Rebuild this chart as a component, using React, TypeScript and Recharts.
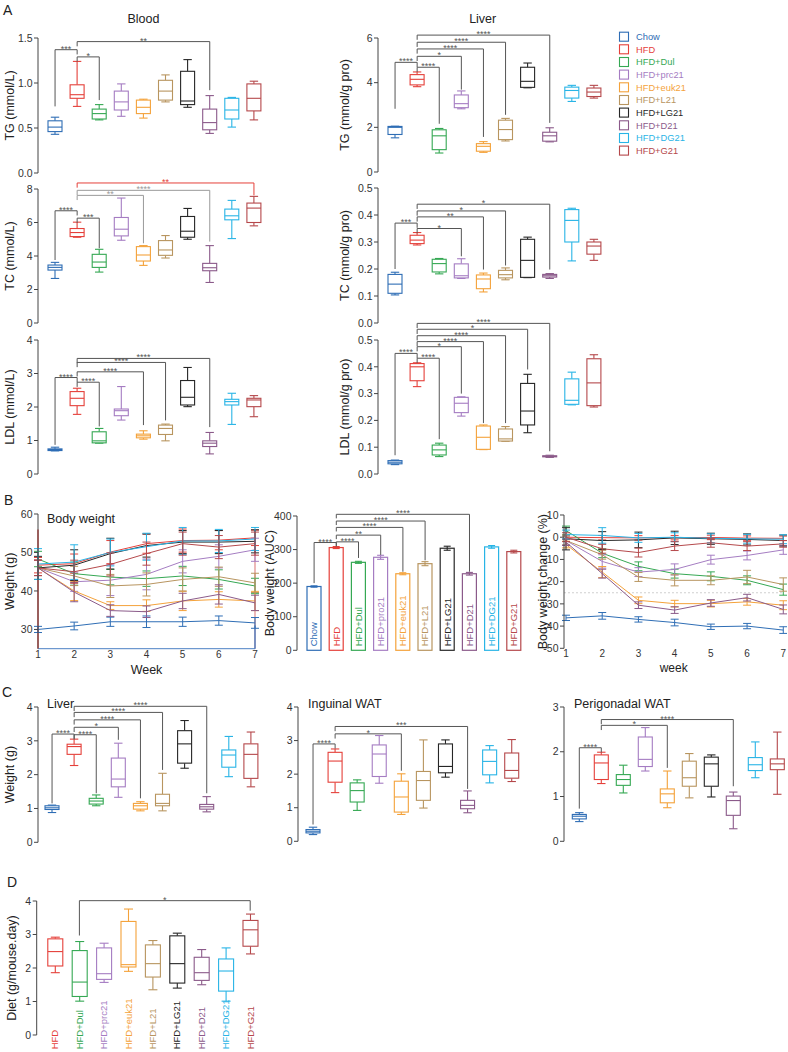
import React from 'react';
import {
  ComposedChart,
  BarChart,
  LineChart,
  Bar,
  Line,
  XAxis,
  YAxis,
  ReferenceLine,
  ErrorBar,
  Label,
} from 'recharts';

const FONT = '"Liberation Sans", Arial, Helvetica, sans-serif';
const AXIS = '#444';
const TEXT = '#222';

// ---------- groups ----------
const GROUPS = ['Chow', 'HFD', 'HFD+Dul', 'HFD+prc21', 'HFD+euk21', 'HFD+L21', 'HFD+LG21', 'HFD+D21', 'HFD+DG21', 'HFD+G21'];
const COLORS = ['#2e6db5', '#e5403a', '#35a853', '#a57cc2', '#f4a23a', '#b8955f', '#262626', '#8b5a8a', '#28b4e6', '#b5484b'];
const AUC_LABELS = ['Chow', 'HFD', 'HFD+Dul', 'HFD+pro21', 'HFD+euk21', 'HFD+L21', 'HFD+LG21', 'HFD+D21', 'HFD+DG21', 'HFD+G21'];
const WEEKS = [1, 2, 3, 4, 5, 6, 7];

type Stat = [number, number, number, number, number]; // min, q1, median, q3, max
interface Bracket { from: string; to: string; y: number; leg: number; label: string; color?: string; fromLeg?: number }

// ---------- A: serum lipids ----------
const BLOOD_TG: Stat[] = [
  [0.43, 0.46, 0.51, 0.58, 0.62], [0.74, 0.83, 0.87, 0.98, 1.24], [0.59, 0.6, 0.66, 0.71, 0.76],
  [0.63, 0.7, 0.79, 0.91, 0.99], [0.61, 0.66, 0.73, 0.81, 0.82], [0.79, 0.81, 0.91, 1.03, 1.09],
  [0.73, 0.76, 0.8, 1.13, 1.26], [0.44, 0.48, 0.56, 0.71, 0.86], [0.51, 0.6, 0.7, 0.83, 0.84],
  [0.59, 0.69, 0.83, 0.99, 1.02],
];
const BLOOD_TC: Stat[] = [
  [2.66, 3.16, 3.32, 3.46, 3.62], [5.12, 5.16, 5.4, 5.64, 6.02], [3.04, 3.32, 3.64, 4.1, 4.4],
  [4.94, 5.2, 5.6, 6.3, 7.46], [3.44, 3.7, 4.06, 4.56, 4.62], [3.88, 4.04, 4.36, 4.92, 5.22],
  [5.0, 5.12, 5.48, 6.36, 6.84], [2.42, 3.12, 3.3, 3.56, 4.62], [5.04, 6.16, 6.4, 6.8, 7.32],
  [5.8, 6.0, 6.86, 7.16, 7.56],
];
const BLOOD_LDL: Stat[] = [
  [0.69, 0.7, 0.73, 0.75, 0.8], [1.78, 2.04, 2.26, 2.46, 2.56], [0.92, 0.93, 0.99, 1.26, 1.36],
  [1.61, 1.74, 1.89, 1.94, 2.61], [1.04, 1.08, 1.14, 1.19, 1.29], [0.99, 1.18, 1.36, 1.46, 1.49],
  [2.01, 2.06, 2.29, 2.79, 3.18], [0.6, 0.82, 0.92, 0.99, 1.24], [1.48, 2.06, 2.16, 2.23, 2.41],
  [1.71, 2.01, 2.21, 2.26, 2.34],
];
const LIVER_TG: Stat[] = [
  [1.53, 1.68, 2.0, 2.04, 2.05], [3.82, 3.9, 4.15, 4.36, 4.48], [0.85, 1.0, 1.62, 1.89, 1.95],
  [2.83, 2.88, 3.06, 3.45, 3.63], [0.88, 0.93, 1.15, 1.27, 1.36], [1.39, 1.45, 1.9, 2.32, 2.4],
  [3.77, 3.79, 4.06, 4.69, 4.88], [1.35, 1.38, 1.62, 1.78, 1.98], [3.16, 3.31, 3.65, 3.8, 3.88],
  [3.31, 3.38, 3.58, 3.76, 3.88],
];
const LIVER_TC: Stat[] = [
  [0.104, 0.11, 0.144, 0.18, 0.188], [0.289, 0.294, 0.307, 0.325, 0.335], [0.182, 0.189, 0.22, 0.236, 0.239],
  [0.165, 0.167, 0.175, 0.219, 0.238], [0.115, 0.127, 0.163, 0.178, 0.185], [0.16, 0.167, 0.179, 0.195, 0.204],
  [0.168, 0.169, 0.232, 0.31, 0.318], [0.165, 0.17, 0.175, 0.18, 0.183], [0.23, 0.3, 0.38, 0.42, 0.425],
  [0.232, 0.255, 0.285, 0.3, 0.31],
];
const LIVER_LDL: Stat[] = [
  [0.035, 0.038, 0.044, 0.05, 0.052], [0.326, 0.348, 0.4, 0.412, 0.415], [0.065, 0.071, 0.09, 0.108, 0.115],
  [0.216, 0.229, 0.264, 0.286, 0.288], [0.091, 0.092, 0.137, 0.179, 0.183], [0.122, 0.123, 0.131, 0.168, 0.177],
  [0.154, 0.183, 0.235, 0.338, 0.372], [0.062, 0.064, 0.066, 0.068, 0.07], [0.258, 0.26, 0.275, 0.355, 0.38],
  [0.25, 0.255, 0.34, 0.43, 0.445],
];

const BLOOD_TG_SIG: Bracket[] = [
  { from: 'HFD', to: 'Chow', y: 1.37, leg: 0.74, label: '***' },
  { from: 'HFD', to: 'HFD+Dul', y: 1.29, leg: 0.81, label: '*' },
  { from: 'HFD', to: 'HFD+D21', y: 1.46, leg: 0.92, label: '**' },
];
const BLOOD_TC_SIG: Bracket[] = [
  { from: 'HFD', to: 'Chow', y: 6.7, leg: 3.76, label: '****' },
  { from: 'HFD', to: 'HFD+Dul', y: 6.26, leg: 4.46, label: '***' },
  { from: 'HFD', to: 'HFD+euk21', y: 7.62, leg: 4.76, label: '**', color: '#9a9a9a' },
  { from: 'HFD', to: 'HFD+D21', y: 7.92, leg: 4.86, label: '****', color: '#9a9a9a' },
  { from: 'HFD', to: 'HFD+G21', y: 8.36, leg: 7.62, label: '**', color: '#e5403a' },
];
const BLOOD_LDL_SIG: Bracket[] = [
  { from: 'HFD', to: 'Chow', y: 2.88, leg: 0.87, label: '****' },
  { from: 'HFD', to: 'HFD+Dul', y: 2.74, leg: 1.42, label: '****' },
  { from: 'HFD', to: 'HFD+euk21', y: 3.05, leg: 1.46, label: '****' },
  { from: 'HFD', to: 'HFD+L21', y: 3.33, leg: 1.6, label: '****' },
  { from: 'HFD', to: 'HFD+D21', y: 3.45, leg: 1.4, label: '****' },
];
const LIVER_TG_SIG: Bracket[] = [
  { from: 'HFD', to: 'Chow', y: 4.91, leg: 2.83, label: '****' },
  { from: 'HFD', to: 'HFD+Dul', y: 4.69, leg: 2.16, label: '****' },
  { from: 'HFD', to: 'HFD+prc21', y: 5.18, leg: 3.69, label: '*' },
  { from: 'HFD', to: 'HFD+euk21', y: 5.51, leg: 1.57, label: '****' },
  { from: 'HFD', to: 'HFD+L21', y: 5.81, leg: 2.56, label: '****' },
  { from: 'HFD', to: 'HFD+D21', y: 6.13, leg: 2.2, label: '****' },
];
const LIVER_TC_SIG: Bracket[] = [
  { from: 'HFD', to: 'Chow', y: 0.37, leg: 0.2, label: '***' },
  { from: 'HFD', to: 'HFD+prc21', y: 0.35, leg: 0.247, label: '*' },
  { from: 'HFD', to: 'HFD+euk21', y: 0.393, leg: 0.198, label: '**' },
  { from: 'HFD', to: 'HFD+L21', y: 0.415, leg: 0.213, label: '*' },
  { from: 'HFD', to: 'HFD+D21', y: 0.44, leg: 0.198, label: '*' },
];
const LIVER_LDL_SIG: Bracket[] = [
  { from: 'HFD', to: 'Chow', y: 0.45, leg: 0.07, label: '****' },
  { from: 'HFD', to: 'HFD+Dul', y: 0.432, leg: 0.13, label: '****' },
  { from: 'HFD', to: 'HFD+prc21', y: 0.475, leg: 0.3, label: '*' },
  { from: 'HFD', to: 'HFD+euk21', y: 0.494, leg: 0.19, label: '****' },
  { from: 'HFD', to: 'HFD+L21', y: 0.516, leg: 0.19, label: '****' },
  { from: 'HFD', to: 'HFD+LG21', y: 0.54, leg: 0.39, label: '*' },
  { from: 'HFD', to: 'HFD+D21', y: 0.562, leg: 0.085, label: '****' },
];

// ---------- B: body weight ----------
const WEIGHT: number[][] = [
  [30.0, 30.9, 32.0, 32.0, 32.0, 32.3, 31.7],
  [46.7, 47.1, 50.1, 52.3, 53.1, 53.2, 53.8],
  [48.3, 44.5, 43.6, 43.2, 43.9, 43.0, 41.3],
  [46.0, 42.4, 42.8, 44.3, 47.7, 49.0, 50.7],
  [46.0, 40.0, 36.2, 36.2, 37.4, 37.8, 37.4],
  [46.0, 43.9, 41.3, 41.7, 43.0, 43.7, 42.1],
  [46.0, 46.7, 49.7, 51.8, 52.7, 52.7, 52.9],
  [46.0, 39.7, 34.9, 34.6, 37.4, 39.1, 36.9],
  [47.0, 47.5, 50.0, 51.5, 53.0, 53.0, 53.5],
  [46.0, 45.0, 46.9, 49.7, 52.3, 51.4, 52.3],
];
const WEIGHT_ERR: number[][] = [
  [0.8, 1.0, 1.2, 1.5, 1.2, 1.2, 1.4],
  [2.0, 2.5, 3.0, 2.5, 3.0, 2.5, 2.0],
  [2.0, 3.0, 2.0, 2.0, 2.5, 2.5, 2.0],
  [2.0, 2.5, 4.0, 4.0, 3.0, 3.0, 3.0],
  [2.0, 2.5, 1.0, 1.5, 2.5, 2.0, 2.5],
  [2.0, 2.5, 3.0, 3.0, 3.0, 2.5, 2.5],
  [3.0, 4.0, 4.0, 3.0, 3.0, 3.0, 3.0],
  [2.0, 2.5, 1.5, 1.5, 2.0, 2.5, 2.0],
  [4.0, 4.5, 3.5, 3.5, 3.5, 3.0, 3.0],
  [2.0, 3.0, 3.0, 3.0, 3.0, 3.0, 3.0],
];
// coloured frame edges of the overlaid weight plots (week, from, to)
const WEIGHT_EDGES: { week: number; from: number; to: number; color: string }[] = [
  { week: 1, from: 25, to: 56, color: '#e5403a' },
  { week: 7, from: 25, to: 56, color: '#e59a9a' },
  { week: 7, from: 25, to: 31, color: '#4a7fc4' },
];
const AUC = [190, 306, 262, 277, 228, 258, 304, 228, 308, 294];
const AUC_ERR = [2, 3, 3, 6, 3, 6, 6, 4, 4, 4];
const AUC_SIG: Bracket[] = [
  { from: 'HFD', to: 'Chow', y: 321, leg: 200, label: '****' },
  { from: 'HFD', to: 'HFD+Dul', y: 323, leg: 275, label: '****' },
  { from: 'HFD', to: 'HFD+prc21', y: 343, leg: 284, label: '**' },
  { from: 'HFD', to: 'HFD+euk21', y: 366, leg: 234, label: '****' },
  { from: 'HFD', to: 'HFD+L21', y: 385, leg: 268, label: '****' },
  { from: 'HFD', to: 'HFD+D21', y: 405, leg: 234, label: '****' },
];
const CHANGE: number[][] = [
  [-36.3, -35.4, -37.0, -38.4, -40.3, -40.0, -41.8],
  [0.0, -0.2, -0.3, -0.2, -0.1, -0.4, -0.5],
  [3.0, -7.2, -13.1, -16.4, -17.6, -19.4, -23.6],
  [-1.5, -10.9, -15.7, -14.5, -10.1, -8.2, -5.7],
  [-3.3, -15.7, -28.4, -29.9, -29.9, -29.1, -30.6],
  [-1.5, -7.9, -17.9, -19.4, -19.4, -17.9, -21.3],
  [-0.7, -1.5, -1.2, -0.3, -0.7, -1.0, -1.5],
  [-2.2, -16.4, -30.6, -32.8, -29.6, -27.2, -32.5],
  [1.2, 0.8, -0.3, 0.0, -0.5, -0.7, -0.9],
  [0.0, -5.2, -6.9, -4.0, -2.5, -4.0, -3.0],
];
const CHANGE_ERR: number[][] = [
  [1.2, 1.5, 1.2, 1.5, 1.2, 1.2, 1.5],
  [1.0, 1.0, 1.0, 1.0, 1.0, 1.0, 1.0],
  [2.0, 2.0, 2.0, 2.0, 2.0, 2.0, 2.5],
  [2.0, 3.0, 2.0, 2.5, 2.0, 2.0, 2.0],
  [1.5, 2.5, 1.5, 1.5, 1.5, 1.5, 2.0],
  [2.0, 2.0, 2.0, 2.5, 2.0, 3.0, 3.0],
  [5.0, 4.0, 3.5, 3.0, 2.5, 2.5, 2.5],
  [1.5, 2.0, 1.5, 1.5, 1.5, 1.5, 2.0],
  [2.0, 3.5, 2.0, 2.0, 2.0, 2.0, 2.0],
  [2.0, 2.0, 2.0, 2.0, 2.0, 2.0, 1.5],
];

// ---------- C: tissue weights ----------
const LIVER_W: Stat[] = [
  [0.88, 0.97, 1.02, 1.08, 1.1], [2.27, 2.6, 2.83, 2.9, 3.05], [1.08, 1.13, 1.22, 1.3, 1.4],
  [1.33, 1.64, 1.87, 2.49, 2.93], [0.93, 0.98, 1.08, 1.15, 1.2], [0.93, 1.08, 1.15, 1.42, 2.04],
  [2.19, 2.34, 2.91, 3.3, 3.6], [0.9, 0.98, 1.05, 1.12, 1.35], [1.94, 2.22, 2.58, 2.73, 3.13],
  [1.64, 1.89, 2.6, 2.91, 3.26],
];
const INGUINAL_W: Stat[] = [
  [0.2, 0.25, 0.3, 0.35, 0.42], [1.45, 1.76, 2.39, 2.65, 2.75], [0.92, 1.17, 1.51, 1.74, 1.83],
  [1.73, 1.93, 2.6, 2.87, 3.15], [0.8, 0.87, 1.32, 1.79, 2.01], [0.99, 1.22, 1.81, 2.08, 3.02],
  [1.91, 2.04, 2.23, 2.9, 3.02], [0.85, 0.97, 1.07, 1.22, 1.5], [1.74, 1.98, 2.38, 2.72, 2.85],
  [1.78, 1.88, 2.11, 2.63, 3.03],
];
const PERIGONADAL_W: Stat[] = [
  [0.44, 0.5, 0.56, 0.6, 0.64], [1.29, 1.38, 1.75, 1.93, 1.99], [1.08, 1.25, 1.38, 1.49, 1.7],
  [1.57, 1.67, 1.83, 2.33, 2.54], [0.75, 0.86, 1.06, 1.17, 1.57], [0.97, 1.23, 1.42, 1.79, 1.96],
  [0.99, 1.23, 1.73, 1.88, 1.93], [0.28, 0.58, 0.91, 1.01, 1.1], [1.42, 1.58, 1.71, 1.87, 2.22],
  [1.05, 1.6, 1.73, 1.84, 2.44],
];
const LIVER_W_SIG: Bracket[] = [
  { from: 'HFD', to: 'Chow', y: 3.2, leg: 1.15, label: '****' },
  { from: 'HFD', to: 'HFD+Dul', y: 3.18, leg: 1.45, label: '****' },
  { from: 'HFD', to: 'HFD+prc21', y: 3.4, leg: 3.03, label: '*' },
  { from: 'HFD', to: 'HFD+euk21', y: 3.62, leg: 1.3, label: '****' },
  { from: 'HFD', to: 'HFD+L21', y: 3.84, leg: 2.14, label: '****' },
  { from: 'HFD', to: 'HFD+D21', y: 4.02, leg: 1.45, label: '****' },
];
const INGUINAL_SIG: Bracket[] = [
  { from: 'HFD', to: 'Chow', y: 2.9, leg: 0.5, label: '****' },
  { from: 'HFD', to: 'HFD+euk21', y: 3.2, leg: 2.1, label: '*' },
  { from: 'HFD', to: 'HFD+D21', y: 3.42, leg: 1.56, label: '***' },
];
const PERIGONADAL_SIG: Bracket[] = [
  { from: 'HFD', to: 'Chow', y: 2.09, leg: 0.73, label: '****' },
  { from: 'HFD', to: 'HFD+euk21', y: 2.59, leg: 1.64, label: '*' },
  { from: 'HFD', to: 'HFD+D21', y: 2.72, leg: 1.23, label: '****' },
];

// ---------- D: food intake ----------
const DIET: Stat[] = [
  [1.86, 2.06, 2.49, 2.87, 2.92], [1.01, 1.15, 1.58, 2.52, 2.79], [1.57, 1.66, 1.83, 2.6, 2.74],
  [1.9, 2.03, 2.1, 3.39, 3.76], [1.35, 1.73, 2.13, 2.69, 2.82], [1.4, 1.55, 2.13, 2.96, 3.04],
  [1.5, 1.63, 1.86, 2.32, 2.55], [1.01, 1.31, 1.91, 2.27, 2.6], [2.42, 2.65, 3.14, 3.42, 3.61],
];
const DIET_SIG: Bracket[] = [
  { from: 'HFD+Dul', to: 'HFD+G21', y: 4.01, leg: 3.71, fromLeg: 2.97, label: '*' },
];

// ---------- shapes ----------
const BoxShape = (props: any) => {
  const { x, y, width, height } = props;
  const p = props.payload ?? props;
  if (!p || !p.range) return null;
  const [lo, hi] = p.range;
  const top = Math.min(y, y + height);
  const h = Math.abs(height);
  const k = h / (hi - lo);
  const py = (v: number) => top + (hi - v) * k;
  const cx = x + width / 2;
  const cap = width * 0.3;
  return (
    <g stroke={p.color} strokeWidth={1.1} fill="none">
      <line x1={cx} x2={cx} y1={py(hi)} y2={py(p.q3)} />
      <line x1={cx} x2={cx} y1={py(p.q1)} y2={py(lo)} />
      <line x1={cx - cap} x2={cx + cap} y1={py(hi)} y2={py(hi)} />
      <line x1={cx - cap} x2={cx + cap} y1={py(lo)} y2={py(lo)} />
      <rect x={x} y={py(p.q3)} width={width} height={Math.max(py(p.q1) - py(p.q3), 0.6)} fill="#fff" />
      <line x1={x} x2={x + width} y1={py(p.med)} y2={py(p.med)} />
    </g>
  );
};

const AucShape = (props: any) => {
  const { x, y, width, height } = props;
  const p = props.payload ?? props;
  const top = Math.min(y, y + height);
  const h = Math.abs(height);
  const k = h / p.value;
  const cx = x + width / 2;
  const e = p.err * k;
  return (
    <g>
      <rect x={x} y={top} width={width} height={h} fill="#fff" stroke={p.color} strokeWidth={1.2} />
      <g stroke={p.color} strokeWidth={1.1}>
        <line x1={cx} x2={cx} y1={top - e} y2={top + e} />
        <line x1={cx - 3.5} x2={cx + 3.5} y1={top - e} y2={top - e} />
        <line x1={cx - 3.5} x2={cx + 3.5} y1={top + e} y2={top + e} />
      </g>
      <text transform={`translate(${cx + 3.4},${top + h - 4}) rotate(-90)`} fontSize={9.5} fill={p.color}>
        {p.label}
      </text>
    </g>
  );
};

function bracketLines(list: Bracket[], tick: number) {
  const out: any[] = [];
  list.forEach((b, i) => {
    const c = b.color || '#555';
    out.push(
      <ReferenceLine
        key={`h${i}`}
        segment={[{ x: b.from, y: b.y }, { x: b.to, y: b.y }]}
        stroke={c}
        strokeWidth={1}
        ifOverflow="visible"
        label={{ value: b.label, position: 'top', offset: -2, fontSize: 9, fill: c }}
      />,
    );
    out.push(
      <ReferenceLine key={`v${i}`} segment={[{ x: b.to, y: b.y }, { x: b.to, y: b.leg }]} stroke={c} strokeWidth={1} ifOverflow="visible" />,
    );
    out.push(
      <ReferenceLine
        key={`t${i}`}
        segment={[{ x: b.from, y: b.y }, { x: b.from, y: b.fromLeg ?? b.y - tick }]}
        stroke={c}
        strokeWidth={1}
        ifOverflow="visible"
      />,
    );
  });
  return out;
}

const yTick = { fontSize: 10.5, fill: '#333' };

interface BoxPanelProps {
  axisX: number;
  topY: number;
  zeroY: number;
  bandStart: number;
  band: number;
  yw: number;
  groups: string[];
  colors: string[];
  stats: Stat[];
  ticks: number[];
  decimals?: number;
  yLabel?: string;
  labelX?: number;
  brackets: Bracket[];
  barSize: number;
  xLabelBase?: number;
}

function BoxPanel(props: BoxPanelProps) {
  const { axisX, topY, zeroY, bandStart, band, yw, groups, colors, stats, ticks, decimals = 0, yLabel, labelX = 0, brackets, barSize, xLabelBase } = props;
  const T = 30;
  const B = xLabelBase ? 1052 - zeroY : 8;
  const left = axisX - yw;
  const pl = bandStart - axisX;
  const plotW = pl + band * groups.length;
  const W = yw + plotW + 4;
  const H = T + (zeroY - topY) + B;
  const top = topY - T;
  const yMax = ticks[ticks.length - 1];
  const data = groups.map((g, i) => ({
    name: g,
    color: colors[i],
    range: [stats[i][0], stats[i][4]],
    q1: stats[i][1],
    med: stats[i][2],
    q3: stats[i][3],
  }));
  const tickFn = (tp: any) => {
    const idx = groups.indexOf(tp.payload.value);
    return (
      <text
        transform={`translate(${tp.x + 3.4},${(xLabelBase ?? 0) - top}) rotate(-90)`}
        fontSize={9.5}
        fill={colors[idx]}
      >
        {tp.payload.value}
      </text>
    );
  };
  return (
    <div style={{ position: 'absolute', left, top }}>
      <ComposedChart width={W} height={H} data={data} margin={{ top: T, right: 4, bottom: xLabelBase ? 0 : B, left: 0 }}>
        {xLabelBase ? (
          <XAxis
            dataKey="name"
            type="category"
            padding={{ left: pl, right: 0 }}
            axisLine={false}
            tickLine={false}
            height={B}
            interval={0}
            tick={tickFn}
          />
        ) : (
          <XAxis dataKey="name" type="category" hide padding={{ left: pl, right: 0 }} />
        )}
        <YAxis
          type="number"
          domain={[0, yMax]}
          ticks={ticks}
          interval={0}
          width={yw}
          tick={yTick}
          tickSize={4}
          tickMargin={1.5}
          tickLine={{ stroke: AXIS }}
          axisLine={{ stroke: AXIS }}
          tickFormatter={(v: number) => v.toFixed(decimals)}
        >
          {yLabel ? (
            <Label
              value={yLabel}
              angle={-90}
              position="insideLeft"
              offset={labelX - left}
              fontSize={12.5}
              fill={TEXT}
              style={{ textAnchor: 'middle' }}
            />
          ) : null}
        </YAxis>
        <Bar dataKey="range" barSize={barSize} shape={BoxShape} isAnimationActive={false} />
        {bracketLines(brackets, yMax * 0.035)}
      </ComposedChart>
    </div>
  );
}

function rowsFor(values: number[][], errs: number[][]) {
  return WEEKS.map((w, j) => {
    const r: any = { week: w };
    GROUPS.forEach((_, i) => {
      r[`g${i}`] = values[i][j];
      r[`e${i}`] = errs[i][j];
    });
    return r;
  });
}

function seriesLines() {
  return GROUPS.map((g, i) => (
    <Line key={g} dataKey={`g${i}`} name={g} stroke={COLORS[i]} strokeWidth={1} dot={false} isAnimationActive={false}>
      <ErrorBar dataKey={`e${i}`} width={4} stroke={COLORS[i]} strokeWidth={1} direction="y" />
    </Line>
  ));
}

function WeightPanel() {
  const T = 10;
  const XH = 30;
  const topY = 514.3;
  const zeroY = 649;
  const W = 255 + 8;
  const H = T + (zeroY - topY) + XH;
  return (
    <div style={{ position: 'absolute', left: 0, top: topY - T }}>
      <LineChart width={W} height={H} data={rowsFor(WEIGHT, WEIGHT_ERR)} margin={{ top: T, right: 8, bottom: 0, left: 0 }}>
        <XAxis
          dataKey="week"
          type="number"
          domain={[1, 7]}
          ticks={WEEKS}
          interval={0}
          height={XH}
          tick={{ fontSize: 10, fill: '#333' }}
          tickSize={0}
          tickMargin={2.5}
          axisLine={{ stroke: '#4a7fc4' }}
        >
          <Label value="Week" position="insideBottom" offset={5} fontSize={12.5} fill={TEXT} />
        </XAxis>
        <YAxis
          type="number"
          domain={[25, 60]}
          ticks={[30, 40, 50, 60]}
          interval={0}
          width={38}
          tick={yTick}
          tickSize={4}
          tickMargin={1.5}
          tickLine={{ stroke: AXIS }}
          axisLine={{ stroke: AXIS }}
        >
          <Label value="Weight (g)" angle={-90} position="insideLeft" offset={10} fontSize={12.5} fill={TEXT} style={{ textAnchor: 'middle' }} />
        </YAxis>
        {WEIGHT_EDGES.map((e, i) => (
          <ReferenceLine
            key={`edge${i}`}
            segment={[{ x: e.week, y: e.from }, { x: e.week, y: e.to }]}
            stroke={e.color}
            strokeWidth={1.4}
            ifOverflow="visible"
          />
        ))}
        {seriesLines()}
      </LineChart>
    </div>
  );
}

function AucPanel() {
  const T = 30;
  const axisX = 297;
  const yw = 42;
  const topY = 515.7;
  const zeroY = 650;
  const pl = 303 - axisX;
  const band = 22.2;
  const W = yw + pl + band * 10 + 4;
  const H = T + (zeroY - topY) + 6;
  const data = GROUPS.map((g, i) => ({ name: g, value: AUC[i], err: AUC_ERR[i], color: COLORS[i], label: AUC_LABELS[i] }));
  return (
    <div style={{ position: 'absolute', left: axisX - yw, top: topY - T }}>
      <BarChart width={W} height={H} data={data} margin={{ top: T, right: 4, bottom: 6, left: 0 }}>
        <XAxis dataKey="name" type="category" hide padding={{ left: pl, right: 0 }} />
        <YAxis
          type="number"
          domain={[0, 400]}
          ticks={[0, 100, 200, 300, 400]}
          interval={0}
          width={yw}
          tick={yTick}
          tickSize={4}
          tickMargin={1.5}
          tickLine={{ stroke: AXIS }}
          axisLine={{ stroke: AXIS }}
        >
          <Label value="Body weight (AUC)" angle={-90} position="insideLeft" offset={270 - (axisX - yw)} fontSize={12.5} fill={TEXT} style={{ textAnchor: 'middle' }} />
        </YAxis>
        <Bar dataKey="value" barSize={14} shape={AucShape} isAnimationActive={false} />
        {bracketLines(AUC_SIG, 12)}
      </BarChart>
    </div>
  );
}

function ChangePanel() {
  const T = 10;
  const XH = 32;
  const axisX = 564;
  const yw = 44;
  const topY = 515;
  const zeroY = 648.3;
  const W = yw + (783.3 - axisX) + 4;
  const H = T + (zeroY - topY) + XH;
  return (
    <div style={{ position: 'absolute', left: axisX - yw, top: topY - T }}>
      <LineChart width={W} height={H} data={rowsFor(CHANGE, CHANGE_ERR)} margin={{ top: T, right: 4, bottom: 0, left: 0 }}>
        <XAxis
          dataKey="week"
          type="number"
          domain={[1, 7]}
          ticks={WEEKS}
          interval={0}
          height={XH}
          padding={{ left: 2, right: 0 }}
          tick={{ fontSize: 10, fill: '#333' }}
          tickSize={0}
          tickMargin={2}
          axisLine={false}
        >
          <Label value="week" position="insideBottom" offset={8.5} fontSize={12} fill={TEXT} />
        </XAxis>
        <YAxis
          type="number"
          domain={[-50, 10]}
          ticks={[-50, -40, -30, -20, -10, 0, 10]}
          interval={0}
          width={yw}
          tick={yTick}
          tickSize={4}
          tickMargin={1.5}
          tickLine={{ stroke: AXIS }}
          axisLine={{ stroke: AXIS }}
        >
          <Label value="Body weight change (%)" angle={-90} position="insideLeft" offset={543 - (axisX - yw)} fontSize={12.5} fill={TEXT} style={{ textAnchor: 'middle' }} />
        </YAxis>
        <ReferenceLine y={-25} stroke="#cfcfcf" strokeDasharray="2 2" strokeWidth={1} />
        {seriesLines()}
      </LineChart>
    </div>
  );
}

const LEGEND_ROWS = [36.7, 49.3, 62.0, 74.6, 87.3, 100.0, 112.6, 125.3, 138.0, 150.6];

export default function App() {
  return (
    <div style={{ position: 'absolute', left: 0, top: 0, width: 788, height: 1052, background: '#fff', fontFamily: FONT, overflow: 'hidden' }}>
      {/* A: blood */}
      <BoxPanel axisX={38} topY={38} zeroY={173} bandStart={44} band={22.1} yw={38} groups={GROUPS} colors={COLORS} stats={BLOOD_TG} ticks={[0, 0.5, 1, 1.5]} decimals={1} yLabel="TG (mmol/L)" labelX={10} brackets={BLOOD_TG_SIG} barSize={14} />
      <BoxPanel axisX={38} topY={189} zeroY={323} bandStart={44} band={22.1} yw={38} groups={GROUPS} colors={COLORS} stats={BLOOD_TC} ticks={[0, 2, 4, 6, 8]} yLabel="TC (mmol/L)" labelX={10} brackets={BLOOD_TC_SIG} barSize={14} />
      <BoxPanel axisX={38} topY={340} zeroY={474} bandStart={44} band={22.1} yw={38} groups={GROUPS} colors={COLORS} stats={BLOOD_LDL} ticks={[0, 1, 2, 3, 4]} yLabel="LDL (mmol/L)" labelX={10} brackets={BLOOD_LDL_SIG} barSize={14} />
      {/* A: liver */}
      <BoxPanel axisX={378} topY={38} zeroY={172} bandStart={384} band={22.1} yw={50} groups={GROUPS} colors={COLORS} stats={LIVER_TG} ticks={[0, 2, 4, 6]} yLabel="TG (mmol/g pro)" labelX={345} brackets={LIVER_TG_SIG} barSize={14} />
      <BoxPanel axisX={378} topY={188} zeroY={323} bandStart={384} band={22.1} yw={50} groups={GROUPS} colors={COLORS} stats={LIVER_TC} ticks={[0, 0.1, 0.2, 0.3, 0.4, 0.5]} decimals={1} yLabel="TC (mmol/g pro)" labelX={345} brackets={LIVER_TC_SIG} barSize={14} />
      <BoxPanel axisX={378} topY={340} zeroY={474} bandStart={384} band={22.1} yw={50} groups={GROUPS} colors={COLORS} stats={LIVER_LDL} ticks={[0, 0.1, 0.2, 0.3, 0.4, 0.5]} decimals={1} yLabel="LDL (mmol/g pro)" labelX={345} brackets={LIVER_LDL_SIG} barSize={14} />

      {/* B */}
      <WeightPanel />
      <AucPanel />
      <ChangePanel />

      {/* C */}
      <BoxPanel axisX={38} topY={706.7} zeroY={842} bandStart={41} band={22.1} yw={38} groups={GROUPS} colors={COLORS} stats={LIVER_W} ticks={[0, 1, 2, 3, 4]} yLabel="Weight (g)" labelX={10} brackets={LIVER_W_SIG} barSize={14} />
      <BoxPanel axisX={298} topY={706.7} zeroY={841} bandStart={302} band={22.08} yw={24} groups={GROUPS} colors={COLORS} stats={INGUINAL_W} ticks={[0, 1, 2, 3, 4]} brackets={INGUINAL_SIG} barSize={14} />
      <BoxPanel axisX={564} topY={706.7} zeroY={841} bandStart={568.3} band={22} yw={24} groups={GROUPS} colors={COLORS} stats={PERIGONADAL_W} ticks={[0, 1, 2, 3]} brackets={PERIGONADAL_SIG} barSize={14} />

      {/* D */}
      <BoxPanel axisX={36.7} topY={900.7} zeroY={1034.7} bandStart={42.8} band={24.4} yw={36.7} groups={GROUPS.slice(1)} colors={COLORS.slice(1)} stats={DIET} ticks={[0, 1, 2, 3, 4]} yLabel="Diet (g/mouse.day)" labelX={12} brackets={DIET_SIG} barSize={15} xLabelBase={1049} />

      {/* panel letters, titles, legend */}
      <svg width={788} height={1052} style={{ position: 'absolute', left: 0, top: 0, pointerEvents: 'none' }}>
        <g fill={TEXT} fontFamily={FONT}>
          <text x={3} y={15} fontSize={14}>A</text>
          <text x={4} y={505} fontSize={14}>B</text>
          <text x={2} y={697} fontSize={14}>C</text>
          <text x={7} y={887} fontSize={14}>D</text>
          <text x={143.5} y={23} fontSize={12.5} textAnchor="middle">Blood</text>
          <text x={482.7} y={23} fontSize={12.5} textAnchor="middle">Liver</text>
          <text x={47} y={523} fontSize={12.5}>Body weight</text>
          <text x={47} y={708} fontSize={12.5}>Liver</text>
          <text x={308} y={708} fontSize={12.5}>Inguinal WAT</text>
          <text x={574} y={708} fontSize={12.5}>Perigonadal WAT</text>
        </g>
        {GROUPS.map((g, i) => (
          <g key={g}>
            <rect x={619.5} y={LEGEND_ROWS[i] - 4.5} width={9} height={9} fill="#fff" stroke={COLORS[i]} strokeWidth={1.1} />
            <text x={636} y={LEGEND_ROWS[i] + 3.3} fontSize={9.3} fill={COLORS[i]} fontFamily={FONT}>{g}</text>
          </g>
        ))}
      </svg>
    </div>
  );
}
